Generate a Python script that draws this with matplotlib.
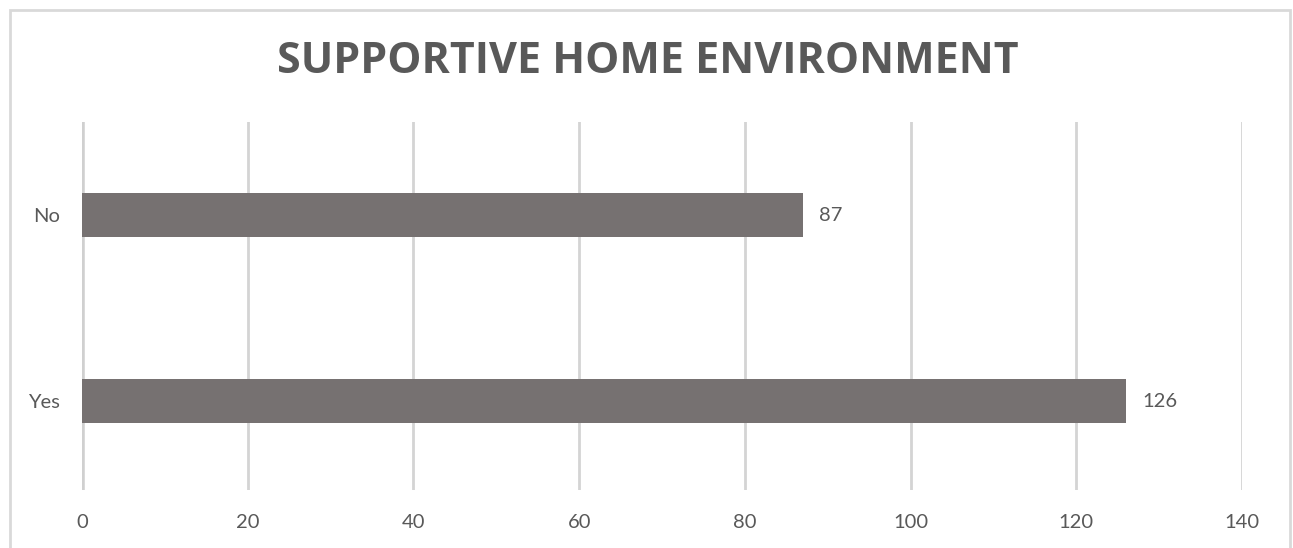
import matplotlib
matplotlib.use("Agg")
import matplotlib.pyplot as plt
from matplotlib.patches import Rectangle

# Data
categories = ["Yes", "No"]
counts = [126, 87]
x_ticks = [0, 20, 40, 60, 80, 100, 120, 140]

bar_color = "#767171"
text_color = "#595959"
grid_color = "#d4d4d4"

fig = plt.figure(figsize=(12.93, 5.48), dpi=100)
fig.patch.set_facecolor("white")

# outer chart border
fig.patches.append(Rectangle((10 / 1293, -0.01), 1280 / 1293, 1 - 10 / 548 + 0.01,
                             transform=fig.transFigure, fill=False,
                             edgecolor="#d9d9d9", linewidth=2))

ax = fig.add_axes([82 / 1293, 1 - 490 / 548, 1160 / 1293, 368 / 548])
bars = ax.barh(range(len(categories)), counts, height=0.237, color=bar_color, zorder=3)

ax.set_xlim(0, 140)
ax.set_ylim(-0.478, 1.5)
ax.set_xticks(x_ticks)
ax.set_yticks(range(len(categories)))
ax.set_yticklabels(categories)

for s in ax.spines.values():
    s.set_visible(False)
ax.grid(axis="x", color=grid_color, linewidth=2, zorder=0)
ax.axvline(0, color="#d0d0d0", linewidth=4, zorder=2)
ax.tick_params(length=0, labelsize=14.5, labelcolor=text_color)
ax.tick_params(axis="x", pad=17)
ax.tick_params(axis="y", pad=16)
for lab in ax.get_xticklabels() + ax.get_yticklabels():
    lab.set_fontfamily("Lato")

for b, v in zip(bars, counts):
    ax.text(v + 2, b.get_y() + b.get_height() / 2, str(v), va="center", ha="left",
            fontsize=14.5, color=text_color, family="Lato")

fig.text(648 / 1293, 1 - 61 / 548, "SUPPORTIVE HOME ENVIRONMENT", ha="center", va="center",
         fontsize=31, fontweight="bold", color=text_color, family="Open Sans")

fig.savefig("out.png", dpi=100)
